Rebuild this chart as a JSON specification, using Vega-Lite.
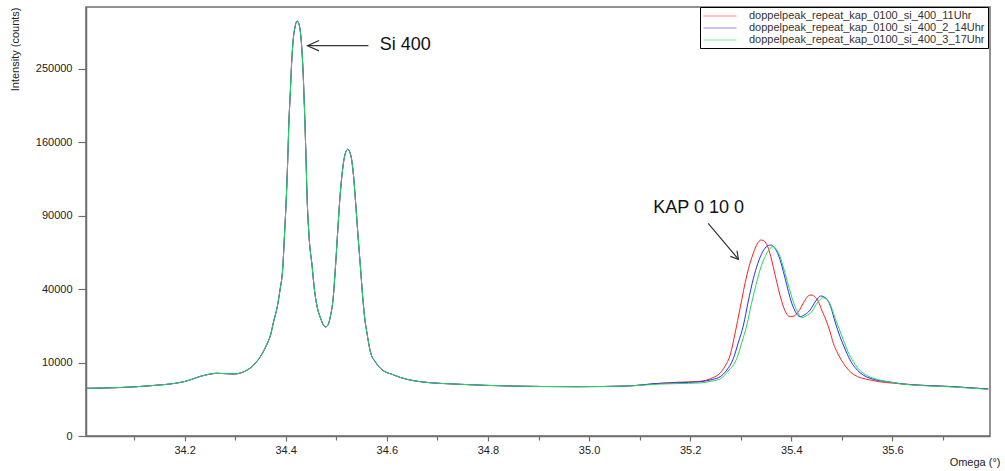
{
  "$schema": "https://vega.github.io/schema/vega-lite/v6.json",
  "width": 904,
  "height": 429,
  "autosize": {"type": "none"},
  "padding": {"left": 86, "top": 7, "right": 15, "bottom": 35},
  "background": "white",
  "config": {
    "font": "Liberation Sans",
    "view": {"stroke": "#6e6e6e", "strokeWidth": 1.5}
  },
  "datasets": {
    "runs": [
      {"id": 1, "run": "doppelpeak_repeat_kap_0100_si_400_11Uhr"},
      {"id": 2, "run": "doppelpeak_repeat_kap_0100_si_400_2_14Uhr"},
      {"id": 3, "run": "doppelpeak_repeat_kap_0100_si_400_3_17Uhr"}
    ],
    "notes": [
      {"label": "Si 400", "lx": 34.586, "ly": 283770, "ax": 34.5636, "ay": 282730, "hx": 34.4431, "hy": 282730},
      {"label": "KAP 0 10 0", "lx": 35.1269, "ly": 96490, "ax": 35.2356, "ay": 83980, "hx": 35.2955, "hy": 57950}
    ],
    "curves": [
      {"id":1,"omega":34.0063,"counts":4223},{"id":1,"omega":34.0735,"counts":4366},{"id":1,"omega":34.1328,"counts":4696},{"id":1,"omega":34.1986,"counts":5473},{"id":1,"omega":34.2415,"counts":6907},{"id":1,"omega":34.2646,"counts":7297},{"id":1,"omega":34.2974,"counts":7135},{"id":1,"omega":34.3239,"counts":8085},{"id":1,"omega":34.3437,"counts":10441},{"id":1,"omega":34.3542,"counts":12787},{"id":1,"omega":34.3621,"counts":15371},{"id":1,"omega":34.37,"counts":18934},{"id":1,"omega":34.3759,"counts":24122},{"id":1,"omega":34.3832,"counts":30888},{"id":1,"omega":34.3887,"counts":39565},{"id":1,"omega":34.3943,"counts":53013},{"id":1,"omega":34.3976,"counts":74990},{"id":1,"omega":34.401,"counts":103380},{"id":1,"omega":34.404,"counts":141390},{"id":1,"omega":34.4065,"counts":185340},{"id":1,"omega":34.4089,"counts":215830},{"id":1,"omega":34.4115,"counts":255480},{"id":1,"omega":34.4148,"counts":291070},{"id":1,"omega":34.4184,"counts":310490},{"id":1,"omega":34.4227,"counts":319670},{"id":1,"omega":34.4267,"counts":313530},{"id":1,"omega":34.4306,"counts":291070},{"id":1,"omega":34.4342,"counts":248640},{"id":1,"omega":34.4372,"counts":197260},{"id":1,"omega":34.4397,"counts":151820},{"id":1,"omega":34.4425,"counts":103380},{"id":1,"omega":34.446,"counts":74990},{"id":1,"omega":34.4524,"counts":53013},{"id":1,"omega":34.4569,"counts":39565},{"id":1,"omega":34.4623,"counts":30888},{"id":1,"omega":34.4688,"counts":25845},{"id":1,"omega":34.4747,"counts":22869},{"id":1,"omega":34.4787,"counts":22053},{"id":1,"omega":34.4836,"counts":22869},{"id":1,"omega":34.4885,"counts":26728},{"id":1,"omega":34.4935,"counts":34331},{"id":1,"omega":34.4984,"counts":53013},{"id":1,"omega":34.5024,"counts":74990},{"id":1,"omega":34.5069,"counts":103380},{"id":1,"omega":34.5113,"counts":126440},{"id":1,"omega":34.5162,"counts":144480},{"id":1,"omega":34.5227,"counts":152570},{"id":1,"omega":34.529,"counts":145520},{"id":1,"omega":34.534,"counts":126440},{"id":1,"omega":34.5379,"counts":103380},{"id":1,"omega":34.5429,"counts":74990},{"id":1,"omega":34.5478,"counts":53013},{"id":1,"omega":34.5528,"counts":34331},{"id":1,"omega":34.5567,"counts":24976},{"id":1,"omega":34.5607,"counts":19692},{"id":1,"omega":34.5676,"counts":13097},{"id":1,"omega":34.5775,"counts":10164},{"id":1,"omega":34.5874,"counts":8507},{"id":1,"omega":34.6136,"counts":6907},{"id":1,"omega":34.6664,"counts":5473},{"id":1,"omega":34.7455,"counts":4961},{"id":1,"omega":34.8443,"counts":4640},{"id":1,"omega":34.9761,"counts":4511},{"id":1,"omega":35.0749,"counts":4640},{"id":1,"omega":35.1407,"counts":5155},{"id":1,"omega":35.1737,"counts":5352},
      {"id":1,"omega":35.2198,"counts":5554},{"id":1,"omega":35.2435,"counts":6244},{"id":1,"omega":35.2593,"counts":7367},{"id":1,"omega":35.2692,"counts":9095},{"id":1,"omega":35.2791,"counts":12178},{"id":1,"omega":35.2889,"counts":19692},{"id":1,"omega":35.2988,"counts":30411},{"id":1,"omega":35.3121,"counts":48113},{"id":1,"omega":35.3251,"counts":62160},{"id":1,"omega":35.3324,"counts":68424},{"id":1,"omega":35.3403,"counts":71305},{"id":1,"omega":35.3482,"counts":69857},{"id":1,"omega":35.3547,"counts":65394},{"id":1,"omega":35.3611,"counts":57496},{"id":1,"omega":35.368,"counts":48113},{"id":1,"omega":35.3812,"counts":33478},{"id":1,"omega":35.3897,"counts":28081},{"id":1,"omega":35.3976,"counts":26417},{"id":1,"omega":35.4055,"counts":26728},{"id":1,"omega":35.414,"counts":28678},{"id":1,"omega":35.4273,"counts":34331},{"id":1,"omega":35.4332,"counts":36380},{"id":1,"omega":35.4391,"counts":36902},{"id":1,"omega":35.4461,"counts":36120},{"id":1,"omega":35.4536,"counts":33478},{"id":1,"omega":35.4609,"counts":29002},{"id":1,"omega":35.4702,"counts":24122},{"id":1,"omega":35.4767,"counts":20076},{"id":1,"omega":35.4832,"counts":15950},{"id":1,"omega":35.4925,"counts":12481},{"id":1,"omega":35.503,"counts":9810},{"id":1,"omega":35.5227,"counts":7066},{"id":1,"omega":35.5557,"counts":5821},{"id":1,"omega":35.6216,"counts":5019},{"id":1,"omega":35.7204,"counts":4511},{"id":1,"omega":35.7895,"counts":4100},
      {"id":2,"omega":34.0063,"counts":4223},{"id":2,"omega":34.0735,"counts":4366},{"id":2,"omega":34.1328,"counts":4696},{"id":2,"omega":34.1986,"counts":5473},{"id":2,"omega":34.2415,"counts":6907},{"id":2,"omega":34.2646,"counts":7297},{"id":2,"omega":34.2974,"counts":7135},{"id":2,"omega":34.3239,"counts":8085},{"id":2,"omega":34.3437,"counts":10441},{"id":2,"omega":34.3542,"counts":12787},{"id":2,"omega":34.3621,"counts":15371},{"id":2,"omega":34.37,"counts":18934},{"id":2,"omega":34.3759,"counts":24122},{"id":2,"omega":34.3832,"counts":30888},{"id":2,"omega":34.3887,"counts":39565},{"id":2,"omega":34.3943,"counts":53013},{"id":2,"omega":34.3976,"counts":74990},{"id":2,"omega":34.401,"counts":103380},{"id":2,"omega":34.404,"counts":141390},{"id":2,"omega":34.4065,"counts":185340},{"id":2,"omega":34.4089,"counts":215830},{"id":2,"omega":34.4115,"counts":255480},{"id":2,"omega":34.4148,"counts":291070},{"id":2,"omega":34.4184,"counts":310490},{"id":2,"omega":34.4227,"counts":319670},{"id":2,"omega":34.4267,"counts":313530},{"id":2,"omega":34.4306,"counts":291070},{"id":2,"omega":34.4342,"counts":248640},{"id":2,"omega":34.4372,"counts":197260},{"id":2,"omega":34.4397,"counts":151820},{"id":2,"omega":34.4425,"counts":103380},{"id":2,"omega":34.446,"counts":74990},{"id":2,"omega":34.4524,"counts":53013},{"id":2,"omega":34.4569,"counts":39565},{"id":2,"omega":34.4623,"counts":30888},{"id":2,"omega":34.4688,"counts":25845},{"id":2,"omega":34.4747,"counts":22869},{"id":2,"omega":34.4787,"counts":22053},{"id":2,"omega":34.4836,"counts":22869},{"id":2,"omega":34.4885,"counts":26728},{"id":2,"omega":34.4935,"counts":34331},{"id":2,"omega":34.4984,"counts":53013},{"id":2,"omega":34.5024,"counts":74990},{"id":2,"omega":34.5069,"counts":103380},{"id":2,"omega":34.5113,"counts":126440},{"id":2,"omega":34.5162,"counts":144480},{"id":2,"omega":34.5227,"counts":152570},{"id":2,"omega":34.529,"counts":145520},{"id":2,"omega":34.534,"counts":126440},{"id":2,"omega":34.5379,"counts":103380},{"id":2,"omega":34.5429,"counts":74990},{"id":2,"omega":34.5478,"counts":53013},{"id":2,"omega":34.5528,"counts":34331},{"id":2,"omega":34.5567,"counts":24976},{"id":2,"omega":34.5607,"counts":19692},{"id":2,"omega":34.5676,"counts":13097},{"id":2,"omega":34.5775,"counts":10164},{"id":2,"omega":34.5874,"counts":8507},{"id":2,"omega":34.6136,"counts":6907},{"id":2,"omega":34.6664,"counts":5473},{"id":2,"omega":34.7455,"counts":4961},{"id":2,"omega":34.8443,"counts":4640},{"id":2,"omega":34.9761,"counts":4511},{"id":2,"omega":35.0749,"counts":4640},{"id":2,"omega":35.1407,"counts":5155},{"id":2,"omega":35.1737,"counts":5250},
      {"id":2,"omega":35.2198,"counts":5473},{"id":2,"omega":35.2435,"counts":5925},{"id":2,"omega":35.2593,"counts":6527},{"id":2,"omega":35.2725,"counts":8085},{"id":2,"omega":35.2856,"counts":11206},{"id":2,"omega":35.2949,"counts":16054},{"id":2,"omega":35.3054,"counts":22869},{"id":2,"omega":35.3146,"counts":33329},{"id":2,"omega":35.3251,"counts":46160},{"id":2,"omega":35.3334,"counts":54912},{"id":2,"omega":35.3417,"counts":61956},{"id":2,"omega":35.3502,"counts":66304},{"id":2,"omega":35.3595,"counts":67715},{"id":2,"omega":35.367,"counts":65604},{"id":2,"omega":35.3745,"counts":60809},{"id":2,"omega":35.3808,"counts":54276},{"id":2,"omega":35.3877,"counts":46160},{"id":2,"omega":35.401,"counts":32685},{"id":2,"omega":35.4095,"counts":28081},{"id":2,"omega":35.4174,"counts":26417},{"id":2,"omega":35.4273,"counts":27401},{"id":2,"omega":35.4372,"counts":29468},{"id":2,"omega":35.447,"counts":33329},{"id":2,"omega":35.453,"counts":35348},{"id":2,"omega":35.4583,"counts":36380},{"id":2,"omega":35.4648,"counts":35862},{"id":2,"omega":35.4727,"counts":33828},{"id":2,"omega":35.4787,"counts":30411},{"id":2,"omega":35.4866,"counts":24122},{"id":2,"omega":35.4964,"counts":18302},{"id":2,"omega":35.5063,"counts":14049},{"id":2,"omega":35.5162,"counts":10721},{"id":2,"omega":35.5261,"counts":8709},{"id":2,"omega":35.536,"counts":7437},{"id":2,"omega":35.5623,"counts":5967},{"id":2,"omega":35.5953,"counts":5412},{"id":2,"omega":35.6216,"counts":5019},{"id":2,"omega":35.7204,"counts":4511},{"id":2,"omega":35.7895,"counts":4100},
      {"id":3,"omega":34.0063,"counts":4223},{"id":3,"omega":34.0735,"counts":4366},{"id":3,"omega":34.1328,"counts":4696},{"id":3,"omega":34.1986,"counts":5473},{"id":3,"omega":34.2415,"counts":6907},{"id":3,"omega":34.2646,"counts":7297},{"id":3,"omega":34.2974,"counts":7135},{"id":3,"omega":34.3239,"counts":8085},{"id":3,"omega":34.3437,"counts":10441},{"id":3,"omega":34.3542,"counts":12787},{"id":3,"omega":34.3621,"counts":15371},{"id":3,"omega":34.37,"counts":18934},{"id":3,"omega":34.3759,"counts":24122},{"id":3,"omega":34.3832,"counts":30888},{"id":3,"omega":34.3887,"counts":39565},{"id":3,"omega":34.3943,"counts":53013},{"id":3,"omega":34.3976,"counts":74990},{"id":3,"omega":34.401,"counts":103380},{"id":3,"omega":34.404,"counts":141390},{"id":3,"omega":34.4065,"counts":185340},{"id":3,"omega":34.4089,"counts":215830},{"id":3,"omega":34.4115,"counts":255480},{"id":3,"omega":34.4148,"counts":291070},{"id":3,"omega":34.4184,"counts":310490},{"id":3,"omega":34.4227,"counts":319670},{"id":3,"omega":34.4267,"counts":313530},{"id":3,"omega":34.4306,"counts":291070},{"id":3,"omega":34.4342,"counts":248640},{"id":3,"omega":34.4372,"counts":197260},{"id":3,"omega":34.4397,"counts":151820},{"id":3,"omega":34.4425,"counts":103380},{"id":3,"omega":34.446,"counts":74990},{"id":3,"omega":34.4524,"counts":53013},{"id":3,"omega":34.4569,"counts":39565},{"id":3,"omega":34.4623,"counts":30888},{"id":3,"omega":34.4688,"counts":25845},{"id":3,"omega":34.4747,"counts":22869},{"id":3,"omega":34.4787,"counts":22053},{"id":3,"omega":34.4836,"counts":22869},{"id":3,"omega":34.4885,"counts":26728},{"id":3,"omega":34.4935,"counts":34331},{"id":3,"omega":34.4984,"counts":53013},{"id":3,"omega":34.5024,"counts":74990},{"id":3,"omega":34.5069,"counts":103380},{"id":3,"omega":34.5113,"counts":126440},{"id":3,"omega":34.5162,"counts":144480},{"id":3,"omega":34.5227,"counts":152570},{"id":3,"omega":34.529,"counts":145520},{"id":3,"omega":34.534,"counts":126440},{"id":3,"omega":34.5379,"counts":103380},{"id":3,"omega":34.5429,"counts":74990},{"id":3,"omega":34.5478,"counts":53013},{"id":3,"omega":34.5528,"counts":34331},{"id":3,"omega":34.5567,"counts":24976},{"id":3,"omega":34.5607,"counts":19692},{"id":3,"omega":34.5676,"counts":13097},{"id":3,"omega":34.5775,"counts":10164},{"id":3,"omega":34.5874,"counts":8507},{"id":3,"omega":34.6136,"counts":6907},{"id":3,"omega":34.6664,"counts":5473},{"id":3,"omega":34.7455,"counts":4961},{"id":3,"omega":34.8443,"counts":4640},{"id":3,"omega":34.9761,"counts":4511},{"id":3,"omega":35.0749,"counts":4640},{"id":3,"omega":35.1407,"counts":5000},{"id":3,"omega":35.1737,"counts":5100},
      {"id":3,"omega":35.2198,"counts":5214},{"id":3,"omega":35.2435,"counts":5615},{"id":3,"omega":35.2593,"counts":6031},{"id":3,"omega":35.2751,"counts":7842},{"id":3,"omega":35.2923,"counts":11206},{"id":3,"omega":35.3018,"counts":16054},{"id":3,"omega":35.3121,"counts":22869},{"id":3,"omega":35.3215,"counts":32833},{"id":3,"omega":35.3318,"counts":44191},{"id":3,"omega":35.3393,"counts":52388},{"id":3,"omega":35.3482,"counts":59671},{"id":3,"omega":35.3561,"counts":64561},{"id":3,"omega":35.3634,"counts":66513},{"id":3,"omega":35.3709,"counts":64561},{"id":3,"omega":35.3779,"counts":59671},{"id":3,"omega":35.3848,"counts":52388},{"id":3,"omega":35.3923,"counts":44191},{"id":3,"omega":35.4075,"counts":31031},{"id":3,"omega":35.4144,"counts":27627},{"id":3,"omega":35.4207,"counts":25977},{"id":3,"omega":35.4292,"counts":26728},{"id":3,"omega":35.4405,"counts":28678},{"id":3,"omega":35.451,"counts":32833},{"id":3,"omega":35.4569,"counts":34583},{"id":3,"omega":35.4622,"counts":35501},{"id":3,"omega":35.4688,"counts":34837},{"id":3,"omega":35.4767,"counts":32341},{"id":3,"omega":35.4832,"counts":27943},{"id":3,"omega":35.4925,"counts":22458},{"id":3,"omega":35.503,"counts":17106},{"id":3,"omega":35.5123,"counts":13097},{"id":3,"omega":35.5227,"counts":10246},{"id":3,"omega":35.532,"counts":8457},{"id":3,"omega":35.5425,"counts":7297},{"id":3,"omega":35.569,"counts":5967},{"id":3,"omega":35.5953,"counts":5412},{"id":3,"omega":35.6216,"counts":4980},{"id":3,"omega":35.7204,"counts":4456},{"id":3,"omega":35.7895,"counts":4048}
    ]
  },
  "layer": [
    {
      "data": {"name": "curves"},
      "transform": [{"lookup": "id", "from": {"data": {"name": "runs"}, "key": "id", "fields": ["run"]}}],
      "mark": {"type": "line", "interpolate": "monotone", "strokeWidth": 1},
      "encoding": {
        "x": {
          "field": "omega", "type": "quantitative",
          "scale": {"domain": [34.005, 35.793], "nice": false, "zero": false},
          "axis": {
            "title": "Omega (°)",
            "values": [34.1, 34.2, 34.3, 34.4, 34.5, 34.6, 34.7, 34.8, 34.9, 35.0, 35.1, 35.2, 35.3, 35.4, 35.5, 35.6, 35.7],
            "labelExpr": "round(datum.value*10) % 2 == 1 ? '' : format(datum.value, '.1f')",
            "tickSize": {"condition": {"test": "round(datum.value*10) % 2 == 1", "value": 4}, "value": 5},
            "grid": false,
            "domainColor": "#6e6e6e", "domainWidth": 1.5,
            "tickColor": "#6e6e6e", "tickWidth": 1.2,
            "labelFont": "Liberation Sans", "labelFontSize": 11, "labelColor": "#222", "labelPadding": 3,
            "titleFont": "Liberation Sans", "titleFontSize": 11, "titleFontWeight": "normal", "titleColor": "#222",
            "titleAnchor": "end", "titleAlign": "right", "titleBaseline": "middle", "titleX": 914, "titleY": 26
          }
        },
        "y": {
          "field": "counts", "type": "quantitative",
          "scale": {"type": "sqrt", "domain": [0, 341600], "nice": false},
          "axis": {
            "title": "Intensity (counts)",
            "values": [0, 2500, 10000, 22500, 40000, 62500, 90000, 122500, 160000, 202500, 250000, 302500],
            "labelExpr": "sqrt(datum.value) % 100 == 0 ? format(datum.value, 'd') : ''",
            "tickSize": {"condition": {"test": "sqrt(datum.value) % 100 != 0", "value": 4}, "value": 8},
            "grid": false,
            "domainColor": "#6e6e6e", "domainWidth": 1.5,
            "tickColor": "#6e6e6e", "tickWidth": 1.2,
            "labelFont": "Liberation Sans", "labelFontSize": 11, "labelColor": "#222", "labelPadding": 6,
            "titleFont": "Liberation Sans", "titleFontSize": 11, "titleFontWeight": "normal", "titleColor": "#222",
            "titleAngle": 270, "titleAlign": "right", "titleBaseline": "middle", "titleX": -71, "titleY": 0
          }
        },
        "color": {
          "field": "run", "type": "nominal",
          "scale": {
            "domain": ["doppelpeak_repeat_kap_0100_si_400_11Uhr", "doppelpeak_repeat_kap_0100_si_400_2_14Uhr", "doppelpeak_repeat_kap_0100_si_400_3_17Uhr"],
            "range": ["#ff2020", "#2a2aff", "#20dc5a"]
          },
          "legend": {
            "title": null, "orient": "none", "legendX": 614, "legendY": 0,
            "strokeColor": "#000", "fillColor": "#fff", "padding": 3,
            "labelFont": "Liberation Sans", "labelFontSize": 11, "labelColor": "#333", "labelLimit": 400,
            "symbolType": "M-1,0H5", "symbolSize": 121, "symbolStrokeWidth": 1, "symbolFillColor": "transparent",
            "symbolOpacity": 0.55,
            "rowPadding": 1, "labelOffset": 34
          }
        }
      }
    },
    {
      "data": {"name": "notes"},
      "mark": {"type": "rule", "color": "#333", "strokeWidth": 1.2},
      "encoding": {
        "x": {"field": "ax", "type": "quantitative", "scale": {"domain": [34.005, 35.793], "nice": false, "zero": false}},
        "y": {"field": "ay", "type": "quantitative", "scale": {"type": "sqrt", "domain": [0, 341600], "nice": false}},
        "x2": {"field": "hx"},
        "y2": {"field": "hy"}
      }
    },
    {
      "data": {"name": "notes"},
      "mark": {"type": "text", "align": "left", "baseline": "middle", "fontSize": 18, "font": "Liberation Sans", "color": "#111"},
      "encoding": {
        "x": {"field": "lx", "type": "quantitative", "scale": {"domain": [34.005, 35.793], "nice": false, "zero": false}},
        "y": {"field": "ly", "type": "quantitative", "scale": {"type": "sqrt", "domain": [0, 341600], "nice": false}},
        "text": {"field": "label"}
      }
    },
    {
      "data": {"name": "notes"},
      "transform": [{"filter": "datum.label == 'Si 400'"}],
      "mark": {"type": "point", "shape": "M-1,-0.45L0,0L-1,0.45", "angle": 180, "size": 529, "filled": false, "stroke": "#333", "strokeWidth": 1.2, "opacity": 1},
      "encoding": {
        "x": {"field": "hx", "type": "quantitative", "scale": {"domain": [34.005, 35.793], "nice": false, "zero": false}},
        "y": {"field": "hy", "type": "quantitative", "scale": {"type": "sqrt", "domain": [0, 341600], "nice": false}}
      }
    },
    {
      "data": {"name": "notes"},
      "transform": [{"filter": "datum.label == 'KAP 0 10 0'"}],
      "mark": {"type": "point", "shape": "M-1,-0.58L0,0L-1,0.58", "angle": 50, "size": 225, "filled": false, "stroke": "#333", "strokeWidth": 1.2, "opacity": 1},
      "encoding": {
        "x": {"field": "hx", "type": "quantitative", "scale": {"domain": [34.005, 35.793], "nice": false, "zero": false}},
        "y": {"field": "hy", "type": "quantitative", "scale": {"type": "sqrt", "domain": [0, 341600], "nice": false}}
      }
    }
  ]
}
